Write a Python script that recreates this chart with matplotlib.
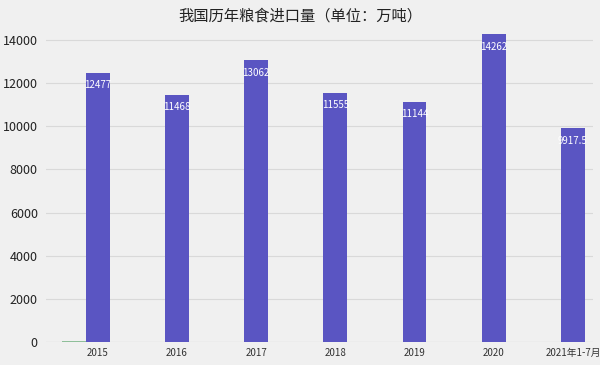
import matplotlib
matplotlib.use("Agg")
import matplotlib.pyplot as plt
import numpy as np

plt.rcParams["font.family"] = ["Noto Sans CJK SC", "DejaVu Sans"]

# 我国历年粮食进口量 (万吨)
years = ["2015", "2016", "2017", "2018", "2019", "2020", "2021年1-7月"]
imports = [12477, 11468, 13062, 11555, 11144, 14262, 9917.5]
labels = ["12477", "11468", "13062", "11555", "11144", "14262", "9917.5"]
# faint second series, only visible as a hairline at 2015
minor = [40, 0, 0, 0, 0, 0, 0]

BAR = "#5a55c2"
BG = "#f0f0f0"

fig = plt.figure(figsize=(6, 3.65), dpi=100, facecolor=BG)
ax = fig.add_axes([0.077, 0.063, 0.911, 0.857], facecolor=BG)

x = np.arange(len(years))
w = 0.30
ax.bar(x - w, minor, width=w, color="#8fbf9a", zorder=2)
bars = ax.bar(x, imports, width=w, color=BAR, zorder=2)

for b, t in zip(bars, labels):
    ax.annotate(t, (b.get_x() + b.get_width() / 2, b.get_height()),
                xytext=(0, -9), textcoords="offset points",
                ha="center", va="center", color="white", fontsize=7, zorder=3)

ax.set_xlim(-0.65, 6.25)
ax.set_ylim(0, 14500)
ax.set_yticks(range(0, 14001, 2000))
ax.set_xticks(x)
ax.set_xticklabels(years, fontsize=7, color="#333333")
ax.tick_params(axis="y", labelsize=9, colors="#222222", length=0, pad=6)
ax.tick_params(axis="x", length=0, pad=4)
ax.yaxis.grid(True, color="#d9d9d9", lw=0.8, zorder=0)
for s in ax.spines.values():
    s.set_visible(False)
ax.axhline(0, color="#d0d0d0", lw=0.8, zorder=1)

fig.text(0.5, 0.955, "我国历年粮食进口量（单位：万吨）", ha="center", va="center",
         fontsize=11, color="#222222")

fig.savefig("out.png", dpi=100, facecolor=BG)
